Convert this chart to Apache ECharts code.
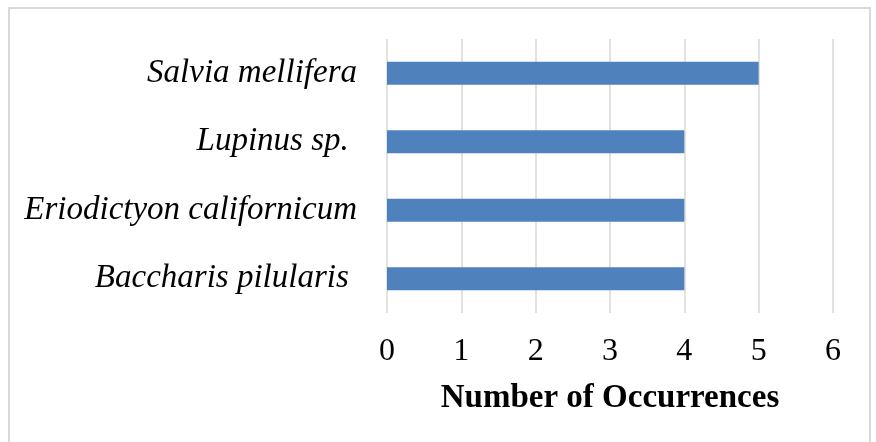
<!DOCTYPE html>
<html>
<head>
<meta charset="utf-8">
<script src="https://cdn.jsdelivr.net/npm/echarts@6/dist/echarts.min.js"></script>
<style>
html, body { margin: 0; padding: 0; background: #fff; }
#main { width: 876px; height: 442px; }
</style>
</head>
<body>
<div id="main"></div>
<script>
// 数据
var species = ['Baccharis pilularis ', 'Eriodictyon californicum', 'Lupinus sp. ', 'Salvia mellifera'];
var occurrences = [4, 4, 4, 5];
var xTicks = [0, 1, 2, 3, 4, 5, 6];

var myChart = echarts.init(document.getElementById('main'));

var option = {
    backgroundColor: '#fff',
    animation: false,
    graphic: [{
        type: 'rect',
        shape: { x: 9, y: 8, width: 861, height: 445 },
        style: { fill: 'none', stroke: '#d9d9d9', lineWidth: 2 },
        silent: true
    }],
    grid: {
        left: 387,
        right: 43,
        top: 39,
        bottom: 129
    },
    xAxis: {
        type: 'value',
        min: xTicks[0],
        max: xTicks[xTicks.length - 1],
        interval: 1,
        axisLine: { show: false },
        axisTick: { show: false },
        splitLine: {
            show: true,
            lineStyle: { color: '#d9d9d9', width: 1.5 }
        },
        axisLabel: {
            color: '#000',
            fontFamily: 'Liberation Serif',
            fontSize: 32,
            lineHeight: 30,
            margin: 24
        },
        name: 'Number of Occurrences',
        nameLocation: 'middle',
        nameGap: 69,
        nameTextStyle: {
            color: '#000',
            fontFamily: 'Liberation Serif',
            fontWeight: 'bold',
            fontSize: 33,
            lineHeight: 32
        }
    },
    yAxis: {
        type: 'category',
        data: species,
        axisLine: { show: false },
        axisTick: { show: false },
        axisLabel: {
            color: '#000',
            fontFamily: 'Liberation Serif',
            fontStyle: 'italic',
            fontSize: 33,
            margin: 30
        }
    },
    series: [{
        type: 'bar',
        data: occurrences,
        barWidth: 23,
        itemStyle: { color: '#4f81bd' }
    }]
};

myChart.setOption(option);
</script>
</body>
</html>
